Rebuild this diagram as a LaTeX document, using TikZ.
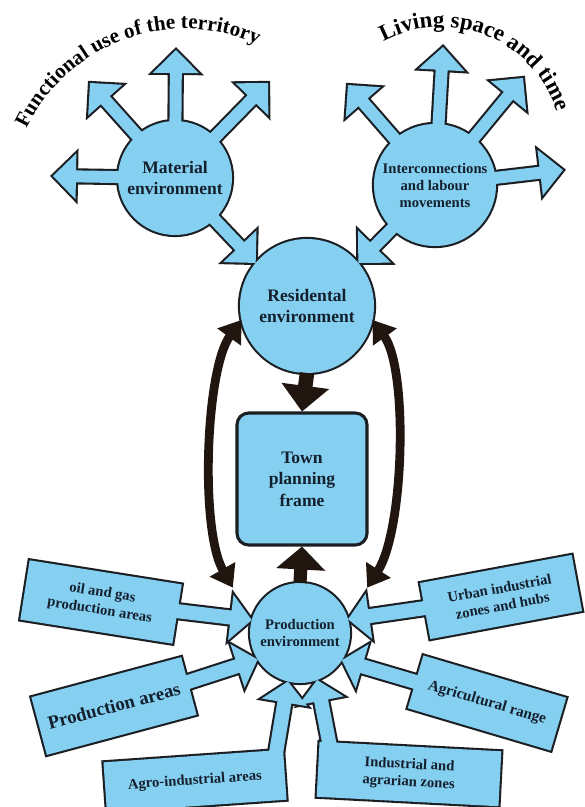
\documentclass[tikz,border=0pt]{standalone}
\usepackage{fontspec}
\setmainfont{Liberation Serif}
\usetikzlibrary{calc, arrows.meta, decorations.text}
\definecolor{SkyFill}{HTML}{85CFF0}
\definecolor{InkLine}{HTML}{1B1F24}
\definecolor{DarkArrow}{HTML}{21160F}
\definecolor{LabelInk}{HTML}{14202E}
\pgfdeclarelayer{rim}
\pgfdeclarelayer{body}
\pgfsetlayers{rim,body,main}
\newcommand{\titlefont}{\bfseries\fontsize{18}{20}\selectfont}
\newcommand{\titlefontb}{\bfseries\fontsize{19.5}{21}\selectfont}
% block arrow outline: tail, tip, shaft half width, head half width
\newcommand{\arrowpoly}[4]{($(#1)!#3!90:(#2)$) -- ($(hb)!#3!90:(#2)$) -- ($(hb)!#4!90:(#2)$) -- (#2)
  -- ($(hb)!#4!-90:(#2)$) -- ($(hb)!#3!-90:(#2)$) -- ($(#1)!#3!-90:(#2)$) -- cycle}
\newcommand{\bluearrow}[5]{%
  \coordinate (hb) at ($(#2)!#5!(#1)$);
  \begin{pgfonlayer}{rim}\draw[rimline] \arrowpoly{#1}{#2}{#3}{#4};\end{pgfonlayer}
  \begin{pgfonlayer}{body}\fill[bodyfill] \arrowpoly{#1}{#2}{#3}{#4};\end{pgfonlayer}}
\newcommand{\darkarrow}[5]{%
  \coordinate (hb) at ($(#2)!#5!(#1)$);
  \fill[DarkArrow] \arrowpoly{#1}{#2}{#3}{#4};}
\tikzset{
  rimline/.style={draw=InkLine, line width=3.6pt, line join=miter},
  bodyfill/.style={fill=SkyFill},
  hub/.style={circle, inner sep=0pt, outer sep=0pt, minimum size=#1, align=center,
              text=LabelInk, font=\bfseries\fontsize{15}{18}\selectfont},
  zone/.style={rectangle, inner sep=0pt, outer sep=0pt, align=center,
               text=LabelInk, font=\bfseries\fontsize{12.5}{15}\selectfont},
  townbox/.style={rectangle, rounded corners=10pt, draw=InkLine, line width=2.6pt,
                  fill=SkyFill, minimum width=3.9cm, minimum height=3.96cm, align=center,
                  text=LabelInk, font=\bfseries\fontsize{15}{18.5}\selectfont},
  loopline/.style={draw=DarkArrow, line width=7.5pt,
                   arrows={Triangle[length=18pt,width=24pt]-Triangle[length=18pt,width=24pt]}}
}
\begin{document}
\begin{tikzpicture}[x=0.03cm, y=0.03cm]
\useasboundingbox (0,0) rectangle (585,-807);
\begin{pgfonlayer}{rim}
  \fill[white] (0,0) rectangle (585,-807);
\end{pgfonlayer}

\node[hub=3.42cm] (mat) at (175,-178) {Material\\environment};
\node[hub=3.66cm, font=\bfseries\fontsize{12.5}{14.5}\selectfont] (inter) at (435,-185)
     {Interconnections\\and labour\\movements};
\node[hub=4.02cm] (res) at (307,-306) {Residental\\environment};
\node[hub=3.0cm, font=\bfseries\fontsize{12.5}{15}\selectfont] (prod) at (300,-633)
     {Production\\environment};
\node[townbox] (town) at (302,-479) {Town\\planning\\frame};

\node[zone, minimum width=4.62cm, minimum height=1.8cm, rotate=-9] (oil) at (101,-602)
     {oil and gas\\production areas};
\node[zone, minimum width=4.65cm, minimum height=1.79cm, rotate=15,
      font=\bfseries\fontsize{16}{18}\selectfont] (parea) at (114,-706) {Production areas};
\node[zone, minimum width=5.4cm, minimum height=1.5cm, rotate=4] (agro) at (195,-781)
     {Agro-industrial areas};
\node[zone, minimum width=5.46cm, minimum height=1.65cm, rotate=-3] (indus) at (409,-774)
     {Industrial and\\agrarian zones};
\node[zone, minimum width=4.47cm, minimum height=1.65cm, rotate=-16.5,
      font=\bfseries\fontsize{13}{15}\selectfont] (agri) at (487,-703) {Agricultural range};
\node[zone, minimum width=4.63cm, minimum height=1.71cm, rotate=10.5] (urban) at (501,-597)
     {Urban industrial\\zones and hubs};

\begin{pgfonlayer}{rim}
  \foreach \c in {mat,inter,res,prod}
    {\draw[rimline] let \p1=($(\c.east)-(\c.center)$) in (\c.center) circle[radius=\x1];}
  \foreach \b in {oil,parea,agro,indus,agri,urban}
    {\draw[rimline] (\b.north west) -- (\b.north east) -- (\b.south east) -- (\b.south west) -- cycle;}
\end{pgfonlayer}
\begin{pgfonlayer}{body}
  \foreach \c in {mat,inter,res,prod}
    {\fill[bodyfill] let \p1=($(\c.east)-(\c.center)$) in (\c.center) circle[radius=\x1];}
  \foreach \b in {oil,parea,agro,indus,agri,urban}
    {\fill[bodyfill] (\b.north west) -- (\b.north east) -- (\b.south east) -- (\b.south west) -- cycle;}
\end{pgfonlayer}

\coordinate (matN) at (176,-50);
\coordinate (matNW) at (90,-83);
\coordinate (matNE) at (268,-83);
\coordinate (matW) at (53,-176);
\coordinate (interN) at (443,-47);
\coordinate (interNW) at (348,-85);
\coordinate (interNE) at (523,-78);
\coordinate (interE) at (563,-170);
\bluearrow{mat}{matN}{5.1pt}{19.6pt}{19.6pt}
\bluearrow{mat}{matNW}{5.1pt}{19.6pt}{19.6pt}
\bluearrow{mat}{matNE}{5.1pt}{19.6pt}{19.6pt}
\bluearrow{mat}{matW}{5.1pt}{19.6pt}{19.6pt}
\bluearrow{mat}{res.140}{5.1pt}{19.6pt}{19.6pt}
\bluearrow{inter}{interN}{5.1pt}{19.6pt}{19.6pt}
\bluearrow{inter}{interNW}{5.1pt}{19.6pt}{19.6pt}
\bluearrow{inter}{interNE}{5.1pt}{19.6pt}{19.6pt}
\bluearrow{inter}{interE}{5.1pt}{19.6pt}{19.6pt}
\bluearrow{inter}{res.40}{5.1pt}{19.6pt}{19.6pt}

\coordinate (agrofoot) at ($(agro.east)!0.07!(agro.west)$);
\coordinate (indusfoot) at ($(indus.west)!0.09!(indus.east)$);
\bluearrow{oil}{prod.165}{6pt}{19.6pt}{18pt}
\bluearrow{parea}{prod.212}{6pt}{19.6pt}{18pt}
\bluearrow{agrofoot}{prod.256}{6pt}{19.6pt}{18pt}
\bluearrow{indusfoot}{prod.290}{6pt}{19.6pt}{18pt}
\bluearrow{agri}{prod.-33}{6pt}{19.6pt}{18pt}
\bluearrow{urban}{prod.16}{6pt}{19.6pt}{18pt}

\darkarrow{res.south}{town.north}{6.2pt}{20.5pt}{22pt}
\darkarrow{prod.north}{town.south}{5.6pt}{21pt}{19.6pt}

\coordinate (lfoot) at ($(prod)!1.62!(prod.146)$);
\coordinate (rfoot) at ($(prod)!1.62!(prod.34)$);
\draw[loopline] (res.192) .. controls ($(res.192)+(-36,-50)$) and ($(lfoot)+(-33,58)$) .. (lfoot);
\draw[loopline] (res.-12) .. controls ($(res.-12)+(36,-50)$) and ($(rfoot)+(37,58)$) .. (rfoot);

\path[decorate, decoration={text along path, text align=center,
      text={|\titlefont|Functional use of the territory}}]
  (24.2,-133.4) arc[start angle=156, end angle=64, radius=176];
\path[decorate, decoration={text along path, text align=center,
      text={|\titlefontb|Living space and time}}]
  (376.4,-45.5) arc[start angle=122, end angle=14, radius=122];
\end{tikzpicture}
\end{document}
